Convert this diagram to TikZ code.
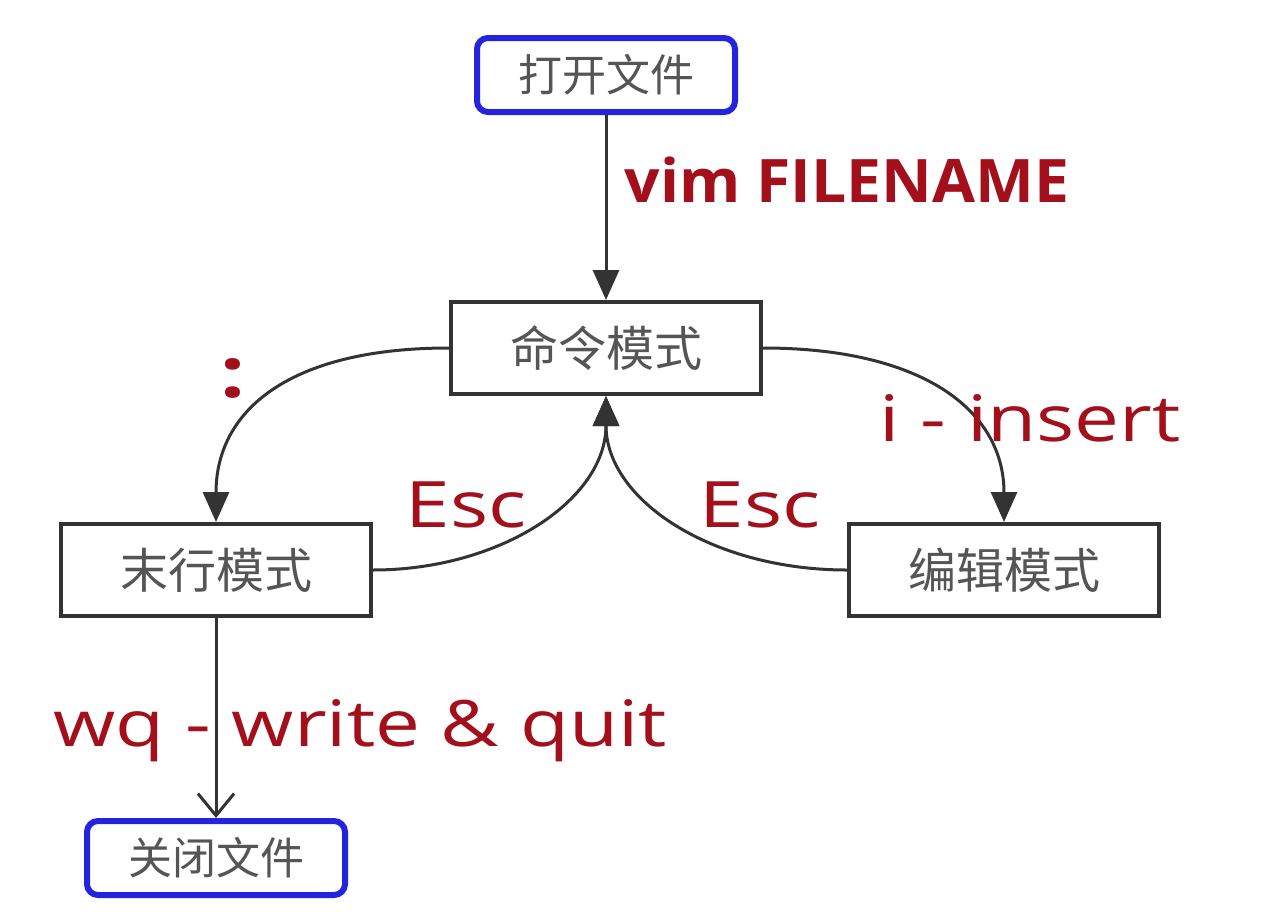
\documentclass[tikz,border=0pt]{standalone}
\usepackage{fontspec}
\newfontfamily\cjk{Noto Sans CJK SC}
\newfontfamily\lbl[FakeStretch=1.25]{Open Sans}
\newfontfamily\lblb[FakeStretch=1.04]{Open Sans}
\usetikzlibrary{arrows.meta}
\definecolor{lblred}{HTML}{A3101C}
\definecolor{edge}{HTML}{333333}
\definecolor{bluebox}{HTML}{2424E0}
\definecolor{cjkgray}{HTML}{555555}
\tikzset{
  modebox/.style={draw=edge, line width=4pt, fill=white, minimum width=310pt, minimum height=92pt, inner sep=0pt, font=\cjk\fontsize{48}{52}\selectfont, text=cjkgray},
  filebox/.style={draw=bluebox, line width=6pt, rounded corners=11pt, fill=white, minimum width=258pt, minimum height=74pt, inner sep=0pt, font=\cjk\fontsize{44}{48}\selectfont, text=cjkgray},
  conn/.style={draw=edge, line width=3pt},
  filltip/.style={-{Triangle[length=30pt,width=26pt]}},
  opentip/.style={-{Straight Barb[length=22pt,width=36pt,line width=3pt]}},
  lab/.style={text=lblred, font=\lbl\fontsize{64}{68}\selectfont, inner sep=0pt},
}
\begin{document}
\begin{tikzpicture}[x=1pt,y=-1pt]
\useasboundingbox (0,0) rectangle (1277,916);
\fill[white] (0,0) rectangle (1277,916);
\node[filebox] (open) at (606,75) {打开文件};
\node[modebox] (cmd) at (606,348) {命令模式};
\node[modebox] (last) at (216,570) {末行模式};
\node[modebox] (edit) at (1004,570) {编辑模式};
\node[filebox] (close) at (216,858) {关闭文件};

\draw[conn,filltip] (open.south) -- (cmd.north);
\draw[conn,filltip] (cmd.west) .. controls (290,348) and (216,410) .. (last.north);
\draw[conn,filltip] (cmd.east) .. controls (922,348) and (1004,410) .. (edit.north);
\draw[conn,filltip] (last.east) .. controls (500,570) and (606,500) .. (cmd.south);
\draw[conn,filltip] (edit.west) .. controls (712,570) and (606,500) .. (cmd.south);
\draw[conn,opentip] (last.south) -- (close.north);

\node[lab, font=\lblb\bfseries\fontsize{60}{64}\selectfont] (lvim) at (847,180) {vim FILENAME};
\node[lab, font=\lbl\bfseries\fontsize{70}{74}\selectfont] (lcolon) at (233,378) {:};
\node[lab] (lesc1) at (466,505) {Esc};
\node[lab] (lesc2) at (760,505) {Esc};
\node[lab] (lins) at (1030,418) {i - insert};
\node[lab] (lwq) at (360,731) {wq - write \& quit};
\end{tikzpicture}
\end{document}
